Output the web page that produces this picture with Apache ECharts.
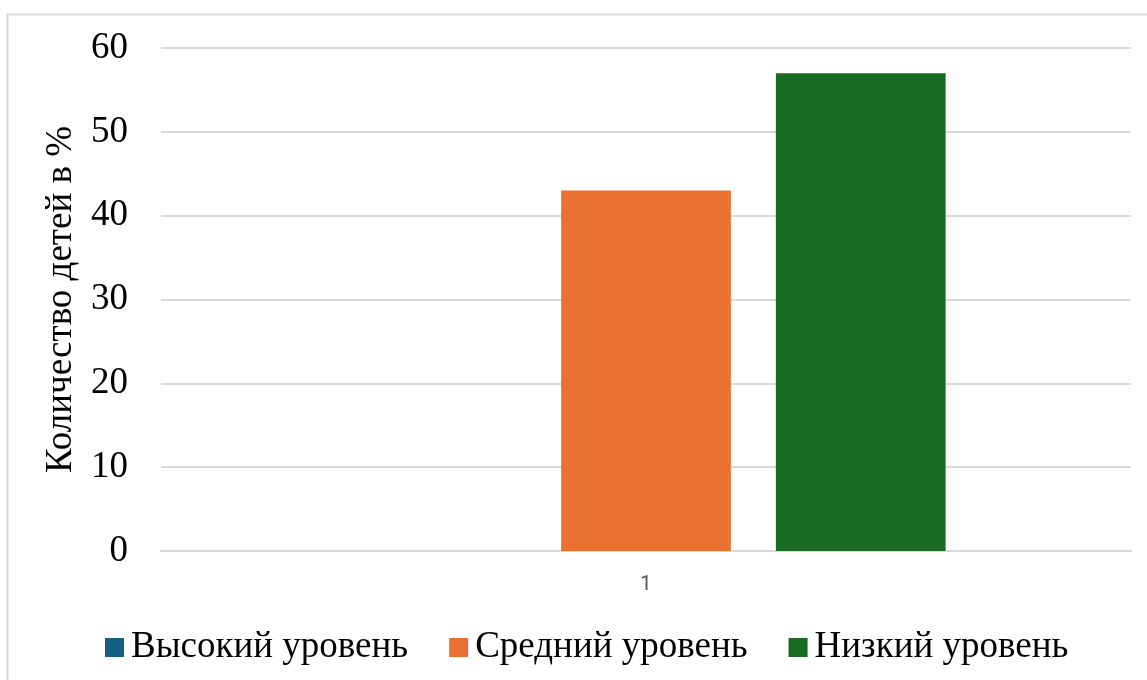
<!DOCTYPE html>
<html>
<head>
<meta charset="utf-8">
<script src="https://cdn.jsdelivr.net/npm/echarts@6/dist/echarts.min.js"></script>
<style>
  html, body { margin: 0; padding: 0; background: #fff; }
  #chart { width: 1147px; height: 680px; }
</style>
</head>
<body>
<div id="chart"></div>
<script>
// данные диаграммы
var categories = ['1']
var seriesNames = ['Высокий уровень', 'Средний уровень', 'Низкий уровень']
var highLevel = [0]
var midLevel = [43]
var lowLevel = [57]
var yTicks = [0, 10, 20, 30, 40, 50, 60]

var colors = ['#156082', '#e97132', '#196b24']
var serif = '"Liberation Serif", "DejaVu Serif", serif'

var chart = echarts.init(document.getElementById('chart'))
chart.setOption({
  animation: false,
  color: colors,
  graphic: [{
    type: 'rect',
    shape: { x: 7.5, y: 14.5, width: 1160, height: 700 },
    style: { fill: 'none', stroke: '#d9d9d9', lineWidth: 2 },
    silent: true
  }],
  grid: {
    left: 161,
    right: 16,
    top: 48,
    bottom: 129
  },
  legend: {
    top: 624,
    left: 100,
    icon: 'rect',
    itemWidth: 19,
    itemHeight: 19,
    itemGap: 41,
    textStyle: {
      fontFamily: serif,
      fontSize: 37,
      color: '#000',
      padding: [0, 0, 0, 2]
    },
    data: seriesNames
  },
  xAxis: {
    type: 'category',
    data: categories,
    axisTick: { show: false },
    axisLine: { lineStyle: { color: '#d9d9d9', width: 2 } },
    axisLabel: {
      margin: 23,
      fontFamily: 'Roboto, "Noto Sans", sans-serif',
      fontSize: 21,
      color: '#595959'
    }
  },
  yAxis: {
    type: 'value',
    min: yTicks[0],
    max: yTicks[yTicks.length - 1],
    interval: 10,
    name: 'Количество детей в %',
    nameLocation: 'middle',
    nameGap: 77,
    nameTextStyle: {
      fontFamily: serif,
      fontSize: 37,
      color: '#000'
    },
    axisLine: { show: false },
    axisTick: { show: false },
    axisLabel: {
      margin: 33,
      fontFamily: serif,
      fontSize: 37,
      color: '#000'
    },
    splitLine: { lineStyle: { color: '#d9d9d9', width: 2 } }
  },
  series: [
    { name: seriesNames[0], type: 'bar', data: highLevel, barWidth: '17.5%', barGap: '26.5%' },
    { name: seriesNames[1], type: 'bar', data: midLevel, barWidth: '17.5%', barGap: '26.5%' },
    { name: seriesNames[2], type: 'bar', data: lowLevel, barWidth: '17.5%', barGap: '26.5%' }
  ]
})
</script>
</body>
</html>
